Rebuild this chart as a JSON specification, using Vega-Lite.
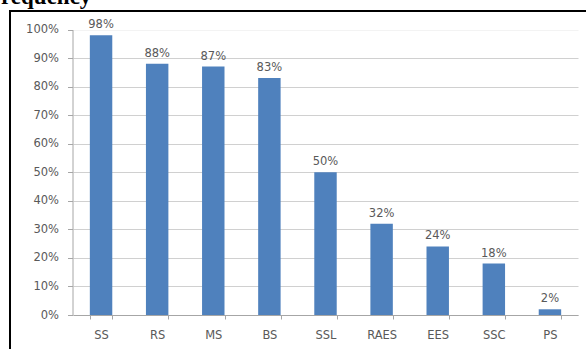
{
  "$schema": "https://vega.github.io/schema/vega-lite/v6.json",
  "width": 579,
  "height": 341,
  "autosize": "none",
  "padding": {"left": 10, "top": 11, "right": 0, "bottom": 0},
  "background": "white",
  "title": {
    "text": "Frequency",
    "anchor": "start",
    "frame": "group",
    "font": "Liberation Serif",
    "fontSize": 23,
    "fontWeight": "bold",
    "color": "black",
    "baseline": "alphabetic",
    "offset": 0,
    "dx": -23,
    "dy": 16
  },
  "config": {
    "view": {"stroke": "black", "strokeWidth": 2},
    "axis": {
      "labelFont": "DejaVu Sans",
      "labelFontSize": 11.5,
      "labelColor": "#595959",
      "domainColor": "#a6a6a6",
      "tickColor": "#a6a6a6",
      "title": null
    }
  },
  "data": {
    "values": [
      {"cat": "SS", "v": 0.98},
      {"cat": "RS", "v": 0.88},
      {"cat": "MS", "v": 0.87},
      {"cat": "BS", "v": 0.83},
      {"cat": "SSL", "v": 0.50},
      {"cat": "RAES", "v": 0.32},
      {"cat": "EES", "v": 0.24},
      {"cat": "SSC", "v": 0.18},
      {"cat": "PS", "v": 0.02}
    ]
  },
  "encoding": {
    "x": {
      "field": "cat",
      "type": "nominal",
      "sort": null,
      "scale": {"range": [63, 568], "paddingInner": 0.6, "paddingOuter": 0.3},
      "axis": {
        "orient": "bottom",
        "offset": -37,
        "labelAngle": 0,
        "tickBand": "extent",
        "tickSize": 4,
        "labelPadding": 10,
        "grid": false
      }
    },
    "y": {
      "field": "v",
      "type": "quantitative",
      "scale": {"domain": [0, 1], "range": [304, 18.5], "nice": false},
      "axis": {
        "offset": -62.5,
        "values": [0, 0.1, 0.2, 0.3, 0.4, 0.5, 0.6, 0.7, 0.8, 0.9, 1],
        "format": ".0%",
        "grid": true,
        "gridColor": "#d0d0d0",
        "gridOpacity": {"condition": {"test": "datum.value === 1", "value": 0.25}, "value": 1},
        "tickSize": 5,
        "labelPadding": 9
      }
    }
  },
  "layer": [
    {"mark": {"type": "bar", "color": "#4f81bd"}},
    {
      "mark": {
        "type": "text",
        "baseline": "bottom",
        "dy": -5,
        "font": "DejaVu Sans",
        "fontSize": 11.5,
        "color": "#595959"
      },
      "encoding": {"text": {"field": "v", "format": ".0%"}}
    }
  ]
}
